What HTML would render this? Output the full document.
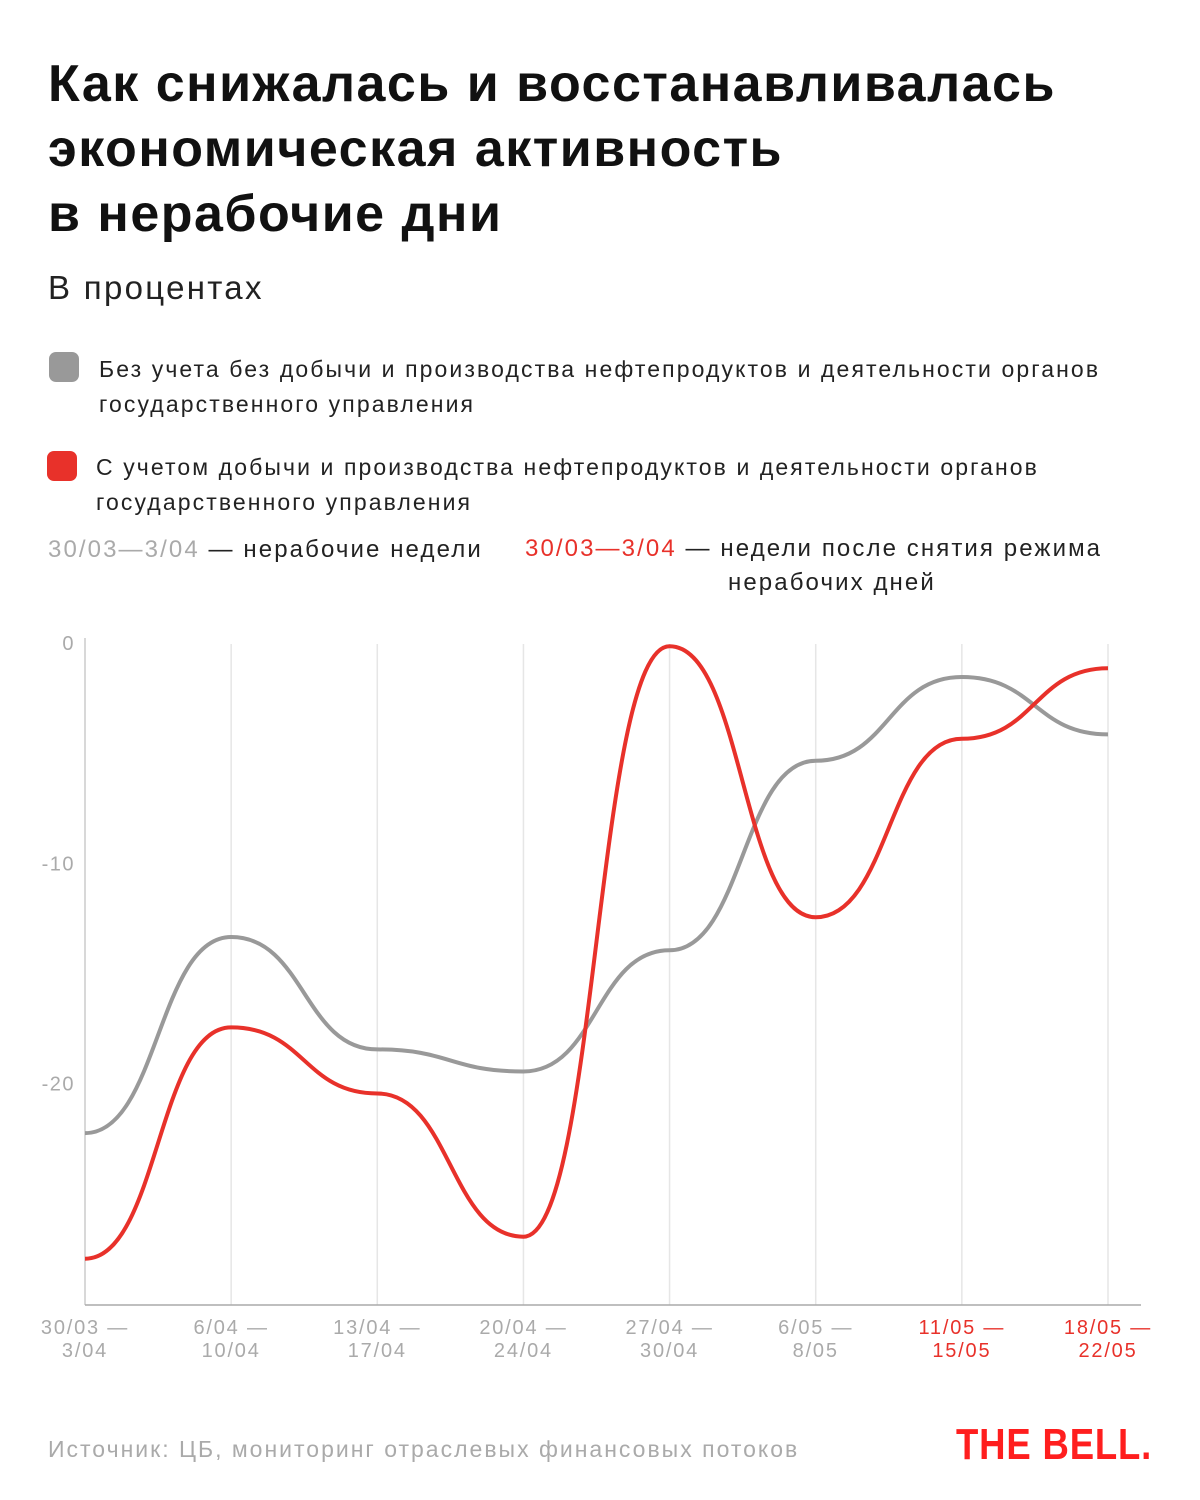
<!DOCTYPE html>
<html><head><meta charset="utf-8">
<style>
body{margin:0;width:1200px;height:1500px;background:#fff;font-family:"Liberation Sans",sans-serif;position:relative;overflow:hidden}
.abs{position:absolute}
h1{position:absolute;left:48px;top:52px;margin:0;font-size:52px;line-height:65px;font-weight:bold;color:#111;letter-spacing:1.5px}
.sub{left:48px;top:269px;font-size:33px;color:#222;letter-spacing:2.3px}
.leg{font-size:23px;line-height:35px;color:#222;letter-spacing:2.1px}
.sw{width:30px;height:30px;border-radius:7px}
</style></head><body>
<h1>Как снижалась и восстанавливалась<br>экономическая активность<br>в нерабочие дни</h1>
<div class="abs sub">В процентах</div>
<div class="abs sw" style="left:49px;top:352px;background:#999"></div>
<div class="abs leg" style="left:99px;top:352px">Без учета без добычи и производства нефтепродуктов и деятельности органов<br>государственного управления</div>
<div class="abs sw" style="left:47px;top:451px;background:#e8312a"></div>
<div class="abs leg" style="left:96px;top:450px">С учетом добычи и производства нефтепродуктов и деятельности органов<br>государственного управления</div>
<div class="abs leg" style="left:48px;top:532px;font-size:24px"><span style="color:#aaa">30/03—3/04</span> — нерабочие недели</div>
<div class="abs leg" style="left:525px;top:532px;font-size:24px;line-height:34px"><span style="color:#e8312a">30/03—3/04</span> — недели после снятия режима<br><span style="padding-left:203px">нерабочих дней</span></div>
<svg id="chart" class="abs" style="left:0;top:0" width="1200" height="1500"></svg>
<div class="abs" style="left:48px;top:1436px;font-size:23px;color:#aaa;letter-spacing:2px">Источник: ЦБ, мониторинг отраслевых финансовых потоков</div>
<div class="abs" style="left:956px;top:1420px;font-size:44px;font-weight:bold;color:#ff1e1e;transform:scaleX(0.83);transform-origin:left;letter-spacing:1px">THE BELL.</div>
<script>
const categories=[["30/03 —","3/04"],["6/04 —","10/04"],["13/04 —","17/04"],["20/04 —","24/04"],["27/04 —","30/04"],["6/05 —","8/05"],["11/05 —","15/05"],["18/05 —","22/05"]];
const grayValues=[-22.2,-13.3,-18.4,-19.4,-13.9,-5.3,-1.5,-4.1];
const redValues=[-27.9,-17.4,-20.4,-26.9,-0.1,-12.4,-4.3,-1.1];
const yTicks=[0,-10,-20];
const redLabelFrom=6;
const NS="http://www.w3.org/2000/svg";
const svg=document.getElementById('chart');
const x0=85,x1=1108,yTop=644,yBot=1305;
function xs(i){return x0+(x1-x0)*i/(categories.length-1);}
function ys(v){return yTop+(0-v)*(yBot-yTop)/30;}
function mk(t,a){const e=document.createElementNS(NS,t);for(const k in a)e.setAttribute(k,a[k]);svg.appendChild(e);return e;}
categories.forEach((c,i)=>{
 if(i>0){const g=mk('line',{x1:xs(i),x2:xs(i),y1:yTop,y2:yBot,stroke:'#e6e6e6','stroke-width':1.5});
 
 }
 c.forEach((s,j)=>{const t=mk('text',{x:xs(i),y:1334+j*23,'text-anchor':'middle','font-size':20,'letter-spacing':1.8,fill:i>=redLabelFrom?'#e8312a':'#aaa','font-family':'Liberation Sans, sans-serif'});t.textContent=s;
 
 });
});
const ax=mk('line',{x1:x0,x2:x0,y1:638,y2:yBot,stroke:'#ccc','stroke-width':1.5});


const bx=mk('line',{x1:x0,x2:1141,y1:yBot,y2:yBot,stroke:'#aaa','stroke-width':1.5});


yTicks.forEach(v=>{const t=mk('text',{x:75,y:ys(v)+6,'text-anchor':'end','font-size':20,'letter-spacing':1.5,fill:'#aaa','font-family':'Liberation Sans, sans-serif'});t.textContent=v;
 
 });
function bump(vals){
 const px=vals.map((v,i)=>xs(i)),py=vals.map(ys);
 let p='M'+px[0]+','+py[0];
 for(let i=0;i<vals.length-1;i++){const mx=(px[i]+px[i+1])/2;p+=' C'+mx+','+py[i]+' '+mx+','+py[i+1]+' '+px[i+1]+','+py[i+1];}
 return p;}
const gp=mk('path',{d:bump(grayValues),fill:'none',stroke:'#999','stroke-width':4});


const rp=mk('path',{d:bump(redValues),fill:'none',stroke:'#e8312a','stroke-width':4});


</script>
</body></html>
